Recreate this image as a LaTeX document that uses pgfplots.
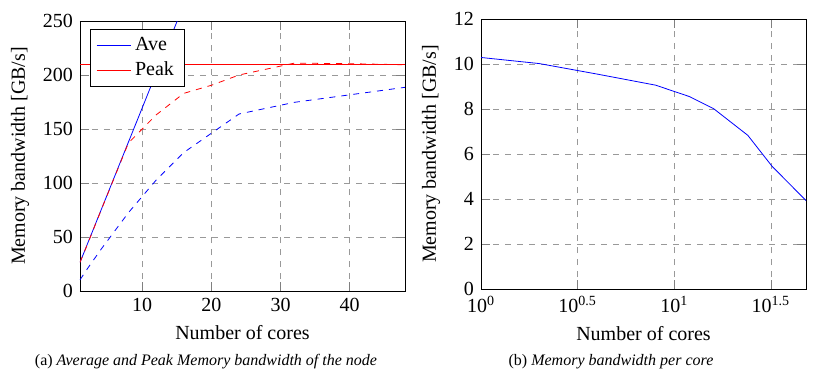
\documentclass[border=0pt]{standalone}
\usepackage{fontspec}
\setmainfont{Liberation Serif}
\usepackage{pgfplots}
\pgfplotsset{compat=1.18}

\pgfplotsset{
  memstyle/.style={
    scale only axis,
    width=162.5pt, height=135pt,
    grid=major,
    major grid style={dashed, gray!80},
    /pgf/number format/assume math mode=true,
    tick label style={font=\fontsize{10}{12}\selectfont},
    label style={font=\fontsize{10}{12}\selectfont},
    legend style={font=\fontsize{10}{12}\selectfont},
    xlabel={Number of cores},
    ylabel={Memory bandwidth [GB/s]},
  }
}

\begin{document}
\begin{tikzpicture}
\path[use as bounding box] (-40pt,-43pt) rectangle (370pt,145.5pt);

\begin{axis}[
  memstyle,
  at={(0pt,0pt)}, anchor=origin,
  xmin=1, xmax=48,
  ymin=0, ymax=250,
  xtick={10,20,30,40},
  ytick={0,50,100,150,200,250},
  legend pos=north west,
  legend cell align=left,
]
% ideal scaling
\addplot[blue] coordinates {(1,26.5) (16,265)};
% peak line
\addplot[red] coordinates {(1,210) (48,210)};
\addplot[blue, dashed, forget plot] coordinates {
  (1,10.3) (2,20.0) (4,38.2) (8,72.5) (12,102.6) (16,128.2)
  (24,163.9) (32,174.7) (48,188.6)};
\addplot[red, dashed, forget plot] coordinates {
  (1,26.5) (2,42) (4,74) (8,137) (12,163) (16,183) (20,190.5)
  (24,200) (32,211) (40,210.5) (48,209.5)};
\legend{Ave, Peak}
\end{axis}

\begin{axis}[
  memstyle,
  at={(200.5pt,1pt)}, anchor=south west,
  xmode=log,
  xmin=1, xmax=48,
  ymin=0, ymax=12,
  xtick={1,3.16228,10,31.6228},
  xticklabels={10\textsuperscript{0}, 10\textsuperscript{0.5}, 10\textsuperscript{1}, 10\textsuperscript{1.5}},
  ytick={0,2,4,6,8,10,12},
]
\addplot[blue] coordinates {
  (1,10.29) (2,10.02) (4,9.55) (8,9.06) (12,8.55) (16,8.01)
  (24,6.83) (32,5.46) (48,3.93)};
\end{axis}

\node[font=\fontsize{8}{10}\selectfont] at (63pt,-35.5pt) {(a) \textit{Average and Peak Memory bandwidth of the node}};
\node[font=\fontsize{8}{10}\selectfont] at (265.5pt,-35.5pt) {(b) \textit{Memory bandwidth per core}};
\end{tikzpicture}
\end{document}
